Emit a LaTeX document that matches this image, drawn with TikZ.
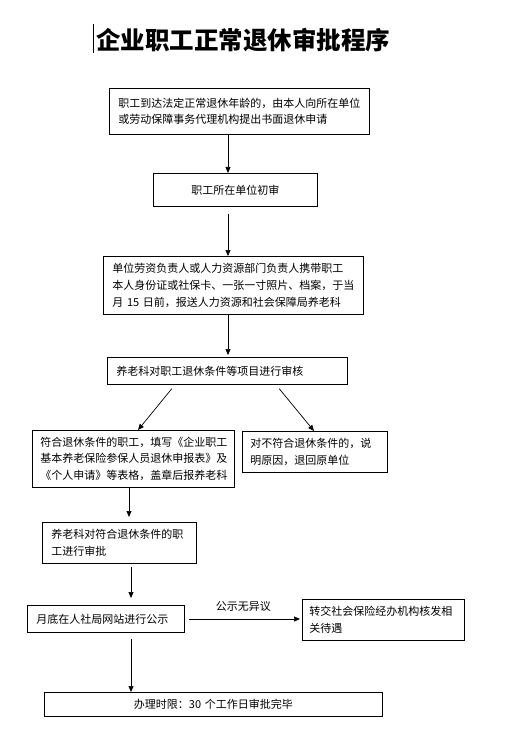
\documentclass[tikz,border=0pt]{standalone}
\usepackage{fontspec}
\newfontfamily\cjk{Noto Sans CJK SC}
\usetikzlibrary{arrows.meta,positioning}

\tikzset{
	box/.style={draw, line width=0.8pt, rectangle, anchor=north west, inner xsep=9pt, inner ysep=0pt,
		align=left, font=\cjk\fontsize{11}{16.5}\selectfont},
	cbox/.style={box, align=center},
	arr/.style={draw, line width=0.7pt, -{Triangle[length=6pt,width=5pt]}},
}

\begin{document}
\begin{tikzpicture}[x=1pt,y=-1pt]
	\useasboundingbox (0,0) rectangle (526,743);
	\node[font=\cjk\bfseries\fontsize{24.5}{26}\selectfont] (title) at (243,40) {企业职工正常退休审批程序};
	\draw[line width=1pt] (93,24) -- (93,53);

	\node[box, text width=242pt, minimum height=46pt] (apply) at (109,88)
		{职工到达法定正常退休年龄的，由本人向所在单位\\或劳动保障事务代理机构提出书面退休申请};
	\node[cbox, text width=146pt, minimum height=33pt] (unit) at (153,173) {职工所在单位初审};
	\node[box, text width=242pt, minimum height=58pt, font=\cjk\fontsize{11}{16.8}\selectfont] (submit) at (103,256)
		{单位劳资负责人或人力资源部门负责人携带职工\\本人身份证或社保卡、一张一寸照片、档案，于当\\月 15 日前，报送人力资源和社会保障局养老科};
	\node[box, text width=222pt, minimum height=27pt] (review) at (107,357) {养老科对职工退休条件等项目进行审核};
	\node[box, text width=186pt, minimum height=57pt, inner xsep=8pt] (fill) at (32,430)
		{符合退休条件的职工，填写《企业职工\\基本养老保险参保人员退休申报表》及\\《个人申请》等表格，盖章后报养老科};
	\node[box, text width=129pt, minimum height=41pt, inner xsep=8pt] (reject) at (242,431)
		{对不符合退休条件的，说\\明原因，退回原单位};
	\node[box, text width=136pt, minimum height=41pt] (approve) at (42,522)
		{养老科对符合退休条件的职\\工进行审批};
	\node[box, text width=139pt, minimum height=27pt] (publish) at (27,605) {月底在人社局网站进行公示};
	\node[box, text width=148pt, minimum height=41pt, inner xsep=7pt] (transfer) at (302,599)
		{转交社会保险经办机构核发相\\关待遇};
	\node[cbox, text width=320pt, minimum height=24pt] (finish) at (44,692) {办理时限：30 个工作日审批完毕};

	\coordinate (mainline) at (228,0);
	\coordinate (leftin) at (175,0);
	\coordinate (leftout) at (138,0);
	\coordinate (rightin) at (276,0);
	\coordinate (rightout) at (314,0);
	\coordinate (lowline) at (129,0);
	\coordinate (baseline) at (131,0);

	\draw[arr] (apply.south -| mainline) -- (unit.north -| mainline);
	\draw[arr, shorten <=7pt] (unit.south -| mainline) -- (submit.north -| mainline);
	\draw[arr, shorten >=2pt] (submit.south -| mainline) -- (review.north -| mainline);
	\draw[arr, shorten <=5pt] (review.south -| leftin) -- (fill.north -| leftout);
	\draw[arr, shorten <=5pt] (review.south -| rightin) -- (reject.north -| rightout);
	\draw[arr, shorten >=5pt] (fill.south -| lowline) -- (approve.north -| lowline);
	\draw[arr, shorten <=3pt, shorten >=7pt] (approve.south -| baseline) -- (publish.north -| baseline);
	\draw[arr, shorten <=4pt, shorten >=2pt] (publish.east |- 0,619) -- (transfer.west |- 0,619)
		node[midway, above=4pt, font=\cjk\fontsize{11}{13}\selectfont] (nodissent) {公示无异议};
	\draw[arr, shorten <=6pt] (publish.south -| baseline) -- (finish.north -| baseline);
\end{tikzpicture}
\end{document}
